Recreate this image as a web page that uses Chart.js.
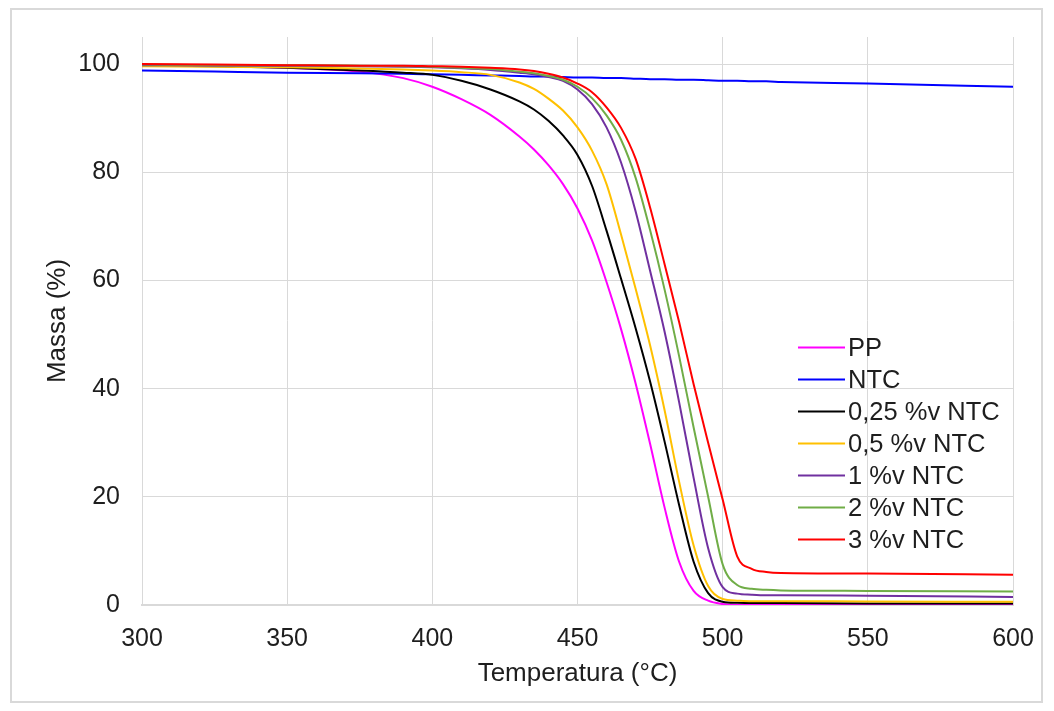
<!DOCTYPE html>
<html>
<head>
<meta charset="utf-8">
<script src="https://cdn.jsdelivr.net/npm/chart.js@4.4.1/dist/chart.umd.min.js"></script>
<style>
  html, body { margin: 0; padding: 0; background: #fff; }
  #wrap { position: relative; width: 1054px; height: 711px; }
  #frame { position: absolute; left: 10px; top: 8px; width: 1029px; height: 691px; border: 2px solid #d9d9d9; pointer-events: none; }
</style>
</head>
<body>
<div id="wrap">
  <canvas id="tgaChart" width="1054" height="711"></canvas>
  <div id="frame"></div>
</div>
<script>
// temperature grid (°C), shared by every curve
const temps = [300, 325, 350, 375, 390, 400, 410, 420, 430, 435, 440, 445, 450, 455, 460,
               465, 470, 475, 480, 485, 490, 495, 500, 505, 510, 515, 520, 550, 600];

// residual mass (%)
const massPP   = [99.8, 99.7, 99.3, 98.6, 97.4, 95.8, 93.5, 90.6, 86.6, 84.2, 81.3, 77.8, 73.3, 67.4, 59.7,
                  51.0, 41.0, 29.8, 18.0, 8.0, 2.6, 0.8, 0.2, 0.05, 0, 0, 0, 0, 0];
const massNTC  = [98.8, 98.6, 98.4, 98.3, 98.2, 98.1, 98.0, 97.9, 97.8, 97.7, 97.7, 97.6, 97.5, 97.5, 97.4,
                  97.4, 97.3, 97.2, 97.2, 97.1, 97.1, 97.0, 96.9, 96.9, 96.8, 96.8, 96.7, 96.4, 95.8];
const mass025  = [99.7, 99.6, 99.3, 98.8, 98.4, 98.0, 96.9, 95.3, 93.1, 91.6, 89.5, 86.8, 83.2, 77.5, 69.2,
                  60.3, 51.2, 41.3, 30.2, 18.5, 8.0, 2.2, 0.6, 0.4, 0.35, 0.35, 0.35, 0.3, 0.3];
const mass05   = [99.6, 99.5, 99.4, 99.2, 99.0, 98.8, 98.5, 98.0, 96.6, 95.4, 93.6, 91.4, 88.3, 84.0, 77.8,
                  68.5, 58.5, 48.0, 36.0, 22.8, 11.0, 3.5, 1.1, 0.8, 0.7, 0.7, 0.7, 0.65, 0.6];
const mass1    = [99.8, 99.7, 99.7, 99.6, 99.5, 99.4, 99.2, 98.9, 98.4, 98.1, 97.6, 96.9, 95.3, 92.6, 88.3,
                  81.8, 72.8, 61.8, 50.5, 37.5, 23.5, 10.5, 3.3, 2.1, 1.9, 1.8, 1.8, 1.7, 1.5];
const mass2    = [99.9, 99.8, 99.8, 99.7, 99.6, 99.5, 99.3, 99.1, 98.6, 98.3, 97.8, 97.1, 95.8, 93.7, 90.5,
                  86.0, 79.0, 69.3, 58.3, 46.0, 32.8, 20.0, 7.5, 3.7, 3.0, 2.8, 2.7, 2.6, 2.5];
const mass3    = [100, 99.9, 99.8, 99.7, 99.7, 99.6, 99.5, 99.3, 99.0, 98.7, 98.2, 97.5, 96.4, 94.8, 92.0,
                  88.2, 82.5, 73.5, 63.0, 52.3, 40.8, 30.0, 19.5, 9.0, 6.7, 6.1, 5.9, 5.8, 5.6];

const seriesLabels = ['PP', 'NTC', '0,25 %v NTC', '0,5 %v NTC', '1 %v NTC', '2 %v NTC', '3 %v NTC'];
const seriesValues = [massPP, massNTC, mass025, mass05, mass1, mass2, mass3];
const seriesColors = ['#ff00ff', '#0000ff', '#000000', '#ffc000', '#7030a0', '#70ad47', '#ff0000'];
const yTickValues = [0, 20, 40, 60, 80, 100];

const FONT = '"Liberation Sans", Arial, sans-serif';
const TEXT = '#1e1e1e';
const GRID = '#d9d9d9';

//legend sits inside the plot, drawn by hand like the Excel one
const insideLegend = {
    id: 'insideLegend',
    afterDraw(chart) {
        const ctx = chart.ctx;
        ctx.save();
        ctx.font = '25.5px ' + FONT;
        ctx.textBaseline = 'middle';
        chart.data.datasets.forEach((ds, i) => {
            const y = 347.5 + i * 32;
            ctx.strokeStyle = ds.borderColor;
            ctx.lineWidth = 2;
            ctx.beginPath();
            ctx.moveTo(798, y);
            ctx.lineTo(845, y);
            ctx.stroke();
            ctx.fillStyle = TEXT;
            ctx.fillText(ds.label, 848, y + 1);
        });
        ctx.restore();
    }
};

const datasets = seriesLabels.map((label, i) => ({
    label: label,
    data: temps.map((t, k) => ({ x: t, y: seriesValues[i][k] })),
    borderColor: seriesColors[i],
    backgroundColor: seriesColors[i],
    borderWidth: 2,
    pointRadius: 0,
    tension: 0.4,
    cubicInterpolationMode: 'monotone',
    fill: false,
    order: seriesLabels.length - i
}));

new Chart(document.getElementById('tgaChart').getContext('2d'), {
    type: 'line',
    data: { datasets: datasets },
    options: {
        responsive: false,
        animation: false,
        layout: { padding: { top: 34, right: 41, left: 0, bottom: 0 } },
        plugins: {
            legend: { display: false },
            tooltip: { enabled: false }
        },
        scales: {
            x: {
                type: 'linear',
                min: 300,
                max: 600,
                ticks: { stepSize: 50, padding: 19, color: TEXT, font: { family: FONT, size: 25 } },
                grid: { color: GRID, drawTicks: false },
                border: { color: GRID, width: 2 },
                title: { display: true, text: 'Temperatura (°C)', color: TEXT,
                         font: { family: FONT, size: 26 }, padding: { top: 0, bottom: 22 } },
                afterFit: scale => { scale.height = 106; }
            },
            y: {
                min: 0,
                max: 105,
                ticks: { padding: 22, color: TEXT, font: { family: FONT, size: 25 } },
                afterBuildTicks: scale => { scale.ticks = yTickValues.map(v => ({ value: v })); },
                grid: { color: GRID, drawTicks: false },
                border: { color: GRID, width: 1 },
                title: { display: true, text: 'Massa (%)', color: TEXT,
                         font: { family: FONT, size: 26 }, padding: { top: 42, bottom: 0 } },
                afterFit: scale => { scale.width = 142; }
            }
        }
    },
    plugins: [insideLegend]
});
</script>
</body>
</html>
